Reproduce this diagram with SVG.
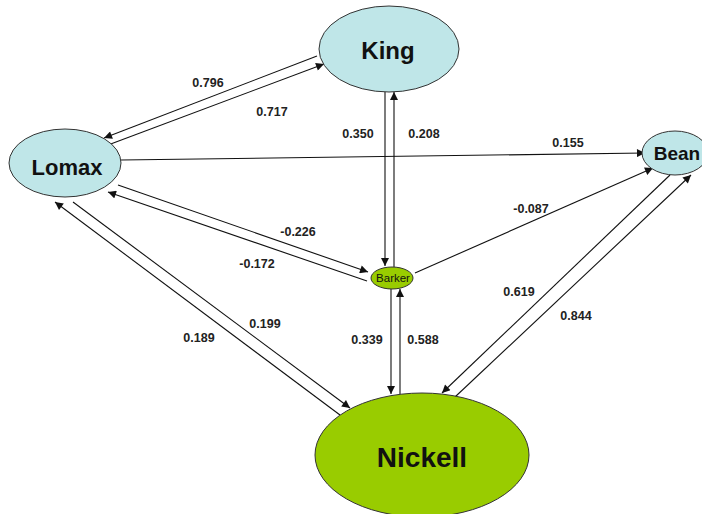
<svg xmlns="http://www.w3.org/2000/svg" width="702" height="514" viewBox="0 0 702 514">
<defs>
<marker id="ah" viewBox="0 0 10 10" refX="10" refY="5" markerWidth="10" markerHeight="8" markerUnits="userSpaceOnUse" orient="auto">
<path d="M0,0 L10,5 L0,10 z" fill="#111"/>
</marker>
</defs>
<style>
.blue{fill:#bfe6e8;stroke:#333;stroke-width:1}
.green{fill:#99cc00;stroke:#333;stroke-width:1}
.name{font-family:"Liberation Sans",Arial,sans-serif;font-weight:bold;fill:#111;text-anchor:middle;dominant-baseline:central}
.lbl{font-family:"Liberation Sans",Arial,sans-serif;font-weight:bold;font-size:12.5px;fill:#222;text-anchor:middle;dominant-baseline:central}
.c line{stroke:#111;stroke-width:1.1;marker-end:url(#ah)}
</style>
<rect width="702" height="514" fill="#fff"/>
<g class="c" id="connectors">
<line x1="317" y1="56" x2="104" y2="138"/>
<line x1="108" y1="145" x2="324" y2="64"/>
<line x1="121" y1="160" x2="645" y2="153"/>
<line x1="385" y1="92" x2="385" y2="266"/>
<line x1="394" y1="267" x2="394" y2="92"/>
<line x1="118" y1="185" x2="368" y2="272"/>
<line x1="367" y1="281" x2="108" y2="192"/>
<line x1="340" y1="415" x2="55" y2="202"/>
<line x1="73" y1="202" x2="350" y2="408"/>
<line x1="391" y1="289" x2="391" y2="394"/>
<line x1="400" y1="394" x2="400" y2="289"/>
<line x1="415" y1="273" x2="653" y2="168"/>
<line x1="670" y1="175" x2="442" y2="393"/>
<line x1="455" y1="397" x2="691" y2="175"/>
</g>
<g id="labels">
<text class="lbl" x="208" y="83">0.796</text>
<text class="lbl" x="272" y="112">0.717</text>
<text class="lbl" x="358" y="134">0.350</text>
<text class="lbl" x="424" y="134">0.208</text>
<text class="lbl" x="568" y="143">0.155</text>
<text class="lbl" x="298" y="232">-0.226</text>
<text class="lbl" x="257" y="264">-0.172</text>
<text class="lbl" x="531" y="209">-0.087</text>
<text class="lbl" x="519" y="292">0.619</text>
<text class="lbl" x="576" y="316">0.844</text>
<text class="lbl" x="199" y="338">0.189</text>
<text class="lbl" x="265" y="324">0.199</text>
<text class="lbl" x="367" y="340">0.339</text>
<text class="lbl" x="423" y="340">0.588</text>
</g>
<g id="King">
<ellipse class="blue" cx="389" cy="49" rx="70" ry="43"/>
<text class="name" x="388" y="50" font-size="24">King</text>
</g>
<g id="Lomax">
<ellipse class="blue" cx="65" cy="163" rx="56" ry="34"/>
<text class="name" x="67" y="167" font-size="22">Lomax</text>
</g>
<g id="Bean">
<ellipse class="blue" cx="675" cy="153" rx="33" ry="22"/>
<text class="name" x="677" y="153" font-size="19">Bean</text>
</g>
<g id="Barker">
<ellipse class="green" cx="392" cy="278" rx="21" ry="11"/>
<text class="name" x="393" y="278" font-size="11.5" font-weight="normal" style="font-weight:normal">Barker</text>
</g>
<g id="Nickell">
<ellipse class="green" cx="422" cy="455" rx="107" ry="62"/>
<text class="name" x="422" y="457" font-size="28">Nickell</text>
</g>
</svg>
